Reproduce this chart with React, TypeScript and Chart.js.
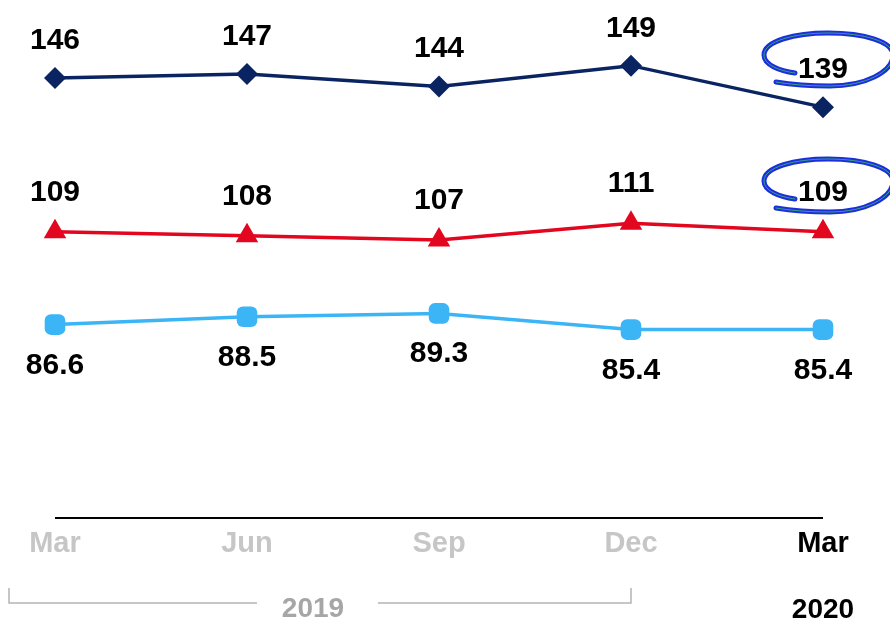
import React, { useEffect, useRef } from "react";
import { Chart, registerables } from "chart.js";

Chart.register(...registerables);

const categories = ["Mar", "Jun", "Sep", "Dec", "Mar"];
const seriesTop = [146, 147, 144, 149, 139];
const seriesMid = [109, 108, 107, 111, 109];
const seriesLow = [86.6, 88.5, 89.3, 85.4, 85.4];
const topLabels = ["146", "147", "144", "149", "139"];
const midLabels = ["109", "108", "107", "111", "109"];
const lowLabels = ["86.6", "88.5", "89.3", "85.4", "85.4"];
const yearLabels = ["2019", "2020"];

const NAVY = "#0a2462";
const RED = "#e2061f";
const LIGHT = "#3cb5f7";
const FONT = "bold 30px 'Liberation Sans', Arial, sans-serif";

const overlayPlugin = {
  id: "overlay",
  afterDatasetsDraw(chart: any) {
    const ctx = chart.ctx;
    const xs = chart.scales.x;
    const area = chart.chartArea;
    ctx.save();
    const labelSets = [topLabels, midLabels, lowLabels];
    const offsets = [-29, -31, 49];
    ctx.font = FONT;
    ctx.fillStyle = "#000";
    ctx.textAlign = "center";
    ctx.textBaseline = "alphabetic";
    chart.data.datasets.forEach((_: any, di: number) => {
      const meta = chart.getDatasetMeta(di);
      meta.data.forEach((pt: any, i: number) => {
        ctx.fillText(labelSets[di][i], pt.x, pt.y + offsets[di]);
      });
    });
    // baseline
    ctx.strokeStyle = "#000";
    ctx.lineWidth = 2;
    ctx.beginPath();
    ctx.moveTo(area.left, area.bottom);
    ctx.lineTo(area.right, area.bottom);
    ctx.stroke();
    // category labels
    ctx.font = "bold 29px 'Liberation Sans', Arial, sans-serif";
    categories.forEach((c, i) => {
      const x = xs.getPixelForValue(i);
      ctx.fillStyle = i === categories.length - 1 ? "#000" : "#c6c6c6";
      ctx.fillText(c, x, area.bottom + 34);
    });
    // bracket for 2019
    const x0 = xs.getPixelForValue(0);
    const x3 = xs.getPixelForValue(3);
    const by = area.bottom + 85;
    ctx.strokeStyle = "#b4b4b4";
    ctx.lineWidth = 1.5;
    ctx.beginPath();
    ctx.moveTo(x0 - 46, by - 15);
    ctx.lineTo(x0 - 46, by);
    ctx.lineTo(x0 + 202, by);
    ctx.moveTo(x0 + 323, by);
    ctx.lineTo(x3, by);
    ctx.lineTo(x3, by - 15);
    ctx.stroke();
    ctx.font = "bold 28px 'Liberation Sans', Arial, sans-serif";
    ctx.fillStyle = "#a6a6a6";
    ctx.fillText(yearLabels[0], (x0 + x3) / 2 - 30, area.bottom + 99);
    ctx.fillStyle = "#000";
    ctx.fillText(yearLabels[1], xs.getPixelForValue(4), area.bottom + 100);

    // hand-drawn loops around the latest values
    const drawLoop = (cx: number, cy: number) => {
      const p = (dx: number, dy: number) => [cx + dx, cy + dy];
      const path = () => {
        ctx.beginPath();
        let a = p(-30, 15);
        ctx.moveTo(a[0], a[1]);
        let c1 = p(-45, 13), c2 = p(-61, 7), e = p(-61, -3);
        ctx.bezierCurveTo(c1[0], c1[1], c2[0], c2[1], e[0], e[1]);
        c1 = p(-61, -17); c2 = p(-30, -25); e = p(3, -25);
        ctx.bezierCurveTo(c1[0], c1[1], c2[0], c2[1], e[0], e[1]);
        c1 = p(40, -25); c2 = p(68, -16); e = p(68, -3);
        ctx.bezierCurveTo(c1[0], c1[1], c2[0], c2[1], e[0], e[1]);
        c1 = p(68, 14); c2 = p(40, 28); e = p(5, 28);
        ctx.bezierCurveTo(c1[0], c1[1], c2[0], c2[1], e[0], e[1]);
        c1 = p(-20, 28); c2 = p(-37, 26); e = p(-49, 24);
        ctx.bezierCurveTo(c1[0], c1[1], c2[0], c2[1], e[0], e[1]);
      };
      ctx.lineCap = "round";
      path();
      ctx.strokeStyle = "#1b2fdc";
      ctx.lineWidth = 5;
      ctx.stroke();
      path();
      ctx.strokeStyle = "#3aa27c";
      ctx.lineWidth = 1;
      ctx.stroke();
    };
    const lastX = xs.getPixelForValue(4);
    drawLoop(lastX + 2, 58);
    drawLoop(lastX + 2, 184);
    ctx.restore();
  },
};

export default function App() {
  const ref = useRef<HTMLCanvasElement>(null);
  useEffect(() => {
    const chart = new Chart(ref.current!, {
      type: "line",
      data: {
        labels: categories,
        datasets: [
          {
            data: seriesTop,
            borderColor: NAVY,
            backgroundColor: NAVY,
            borderWidth: 3.5,
            pointStyle: "rectRot",
            pointRadius: 11,
            pointBorderWidth: 0,
            clip: false,
          },
          {
            data: seriesMid,
            borderColor: RED,
            backgroundColor: RED,
            borderWidth: 3.5,
            pointStyle: "triangle",
            pointRadius: 13,
            pointBorderWidth: 0,
            clip: false,
          },
          {
            data: seriesLow,
            borderColor: LIGHT,
            backgroundColor: LIGHT,
            borderWidth: 3.5,
            pointStyle: "rectRounded",
            pointRadius: 12,
            pointBorderWidth: 0,
            clip: false,
          },
        ],
      },
      options: {
        animation: false,
        responsive: false,
        layout: { padding: { left: 55, right: 67, top: 20, bottom: 104 } },
        plugins: { legend: { display: false }, tooltip: { enabled: false } },
        scales: {
          x: { display: false, offset: false },
          y: { display: false, min: 40, max: 160 },
        },
      },
      plugins: [overlayPlugin],
    });
    return () => chart.destroy();
  }, []);
  return (
    <div style={{ position: "absolute", left: 0, top: 0, width: 890, height: 622, background: "#fff" }}>
      <canvas ref={ref} width={890} height={622} />
    </div>
  );
}
